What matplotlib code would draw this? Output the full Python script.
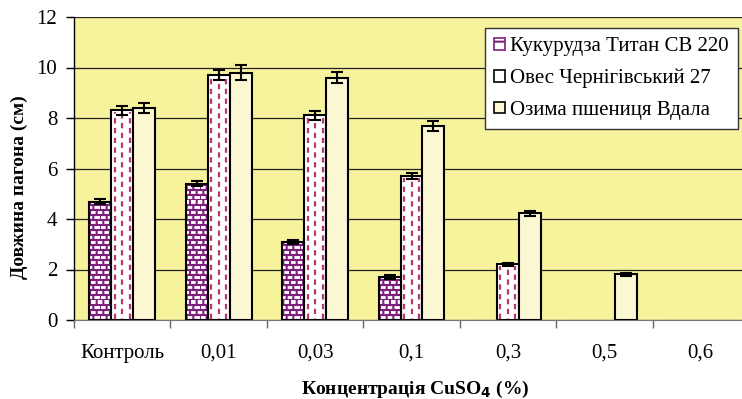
import matplotlib
matplotlib.use("Agg")
import matplotlib.pyplot as plt
import matplotlib.hatch as mhatch
from matplotlib.path import Path
import numpy as np
from matplotlib.patches import Patch

categories = ["Контроль", "0,01", "0,03", "0,1", "0,3", "0,5", "0,6"]
series_names = ["Кукурудза Титан СВ 220", "Овес Чернігівський 27", "Озима пшениця Вдала"]
maize = [4.68, 5.4, 3.1, 1.7, 0.0, 0.0, 0.0]
maize_err = [0.1, 0.1, 0.08, 0.07, 0.0, 0.0, 0.0]
oats = [8.3, 9.7, 8.1, 5.72, 2.2, 0.0, 0.0]
oats_err = [0.18, 0.2, 0.18, 0.12, 0.07, 0.0, 0.0]
wheat = [8.4, 9.8, 9.6, 7.7, 4.22, 1.82, 0.0]
wheat_err = [0.2, 0.3, 0.22, 0.2, 0.1, 0.06, 0.0]


# ---- custom brick hatch ('b') ----
class BrickHatch(mhatch.HatchPatternBase):
    def __init__(self, hatch, density):
        if hatch.count('b'):
            self.rows, self.cols = 20, 15
            self.num_vertices = 2 * self.rows + 2 * self.rows * self.cols
        else:
            self.num_vertices = 0

    def set_vertices_and_codes(self, vertices, codes):
        v = []
        for i in range(self.rows):
            y0 = i / self.rows
            y1 = (i + 1) / self.rows
            v += [(0, y0), (1, y0)]
            off = 0.5 if i % 2 else 0.0
            for j in range(self.cols):
                xx = (j + off) / self.cols
                v += [(xx, y0), (xx, y1)]
        vertices[:] = np.array(v)
        codes[0::2] = Path.MOVETO
        codes[1::2] = Path.LINETO


_orig_validate = mhatch._validate_hatch_pattern


def _validate(h):
    if isinstance(h, str):
        h = h.replace('b', '')
    return _orig_validate(h)


mhatch._validate_hatch_pattern = _validate
mhatch._hatch_types.append(BrickHatch)

SERIF = ['Liberation Serif', 'DejaVu Serif']
plt.rcParams['font.family'] = SERIF
plt.rcParams['hatch.linewidth'] = 1.5

fig = plt.figure(figsize=(7.42, 3.99), dpi=100)
ax = fig.add_axes([74/742, 79/399, 675/742, 303/399])
ax.set_facecolor('#F7F29C')

x = np.arange(len(categories))
w = 0.228
purple = '#7E1F7E'
mag = '#B4386E'
cream = '#FBF7D2'

b1 = ax.bar(x - w, maize, w, facecolor='white', edgecolor=purple, linewidth=0,
            hatch='b', zorder=3)
b1e = ax.bar(x - w, maize, w, facecolor='none', edgecolor='black', linewidth=1.5, zorder=4)
b2 = ax.bar(x, oats, w, facecolor='white', edgecolor='black', linewidth=1.5, zorder=3)
b3 = ax.bar(x + w, wheat, w, facecolor=cream, edgecolor='black', linewidth=1.5, zorder=3)

for cont in (b1e, b2, b3):
    for p in cont:
        if p.get_height() == 0:
            p.set_edgecolor('#c8c49a')
            p.set_linewidth(1)

# dashed pattern inside oats bars
for p in b2:
    h = p.get_height()
    if h <= 0:
        continue
    x0, bw = p.get_x(), p.get_width()
    for frac, off in [(0.16, 0), (0.5, 2.2), (0.84, 0)]:
        ax.plot([x0 + frac * bw] * 2, [0.05, h - 0.08], color=mag, lw=1.6,
                linestyle=(off, (2.4, 2.0)), zorder=3.5, solid_capstyle='butt')

for xs, vals, errs in [(x - w, maize, maize_err), (x, oats, oats_err), (x + w, wheat, wheat_err)]:
    sel = [i for i in range(len(vals)) if vals[i] > 0]
    ax.errorbar(xs[sel], np.array(vals)[sel], yerr=np.array(errs)[sel], fmt='none',
                ecolor='black', elinewidth=1.5, capsize=4.5, capthick=1.5, zorder=5)

ax.set_xlim(-0.5, len(categories) - 0.5)
ax.set_ylim(0, 12)
ax.set_yticks(range(0, 13, 2))
ax.yaxis.grid(True, color='#222222', linewidth=0.9)
ax.set_axisbelow(True)
ax.set_xticks(x)
ax.set_xticklabels(categories)
ax.set_xticks(np.arange(-0.5, len(categories)), minor=True)
ax.tick_params(axis='x', which='major', length=0, pad=17, labelsize=15)
ax.tick_params(axis='x', which='minor', length=6, color='#666666', width=1)
ax.tick_params(axis='y', length=6, width=1, labelsize=15, pad=6)
for s in ['top', 'right']:
    ax.spines[s].set_visible(False)
ax.spines['left'].set_linewidth(1)
ax.spines['bottom'].set_color('#777777')

ax.set_ylabel('Довжина пагона (см)', fontsize=14, fontweight='bold')
ax.yaxis.set_label_coords((28 - 74) / 675, (320 - 187) / 303)
ax.set_xlabel('Концентрація CuSO$_{\\mathbf{4}}$ (%)', fontsize=14, fontweight='bold')
ax.xaxis.set_label_coords((415 - 74) / 675, (320 - 379) / 303)

handles = [
    Patch(facecolor='white', edgecolor=purple, hatch='+', linewidth=1.2),
    Patch(facecolor='white', edgecolor='black', linewidth=1.2),
    Patch(facecolor=cream, edgecolor='black', linewidth=1.2),
]
leg = fig.legend(handles, series_names, loc='upper right',
                 bbox_to_anchor=(738/742, 1 - 28/399), bbox_transform=fig.transFigure,
                 prop={'family': SERIF, 'size': 15}, frameon=True, fancybox=False,
                 edgecolor='#333333', framealpha=1,
                 handlelength=0.5, handleheight=0.5, handletextpad=0.25,
                 labelspacing=0.6, borderpad=0.45, borderaxespad=0)
leg.get_frame().set_linewidth(1)

fig.savefig('out.png', dpi=100)
